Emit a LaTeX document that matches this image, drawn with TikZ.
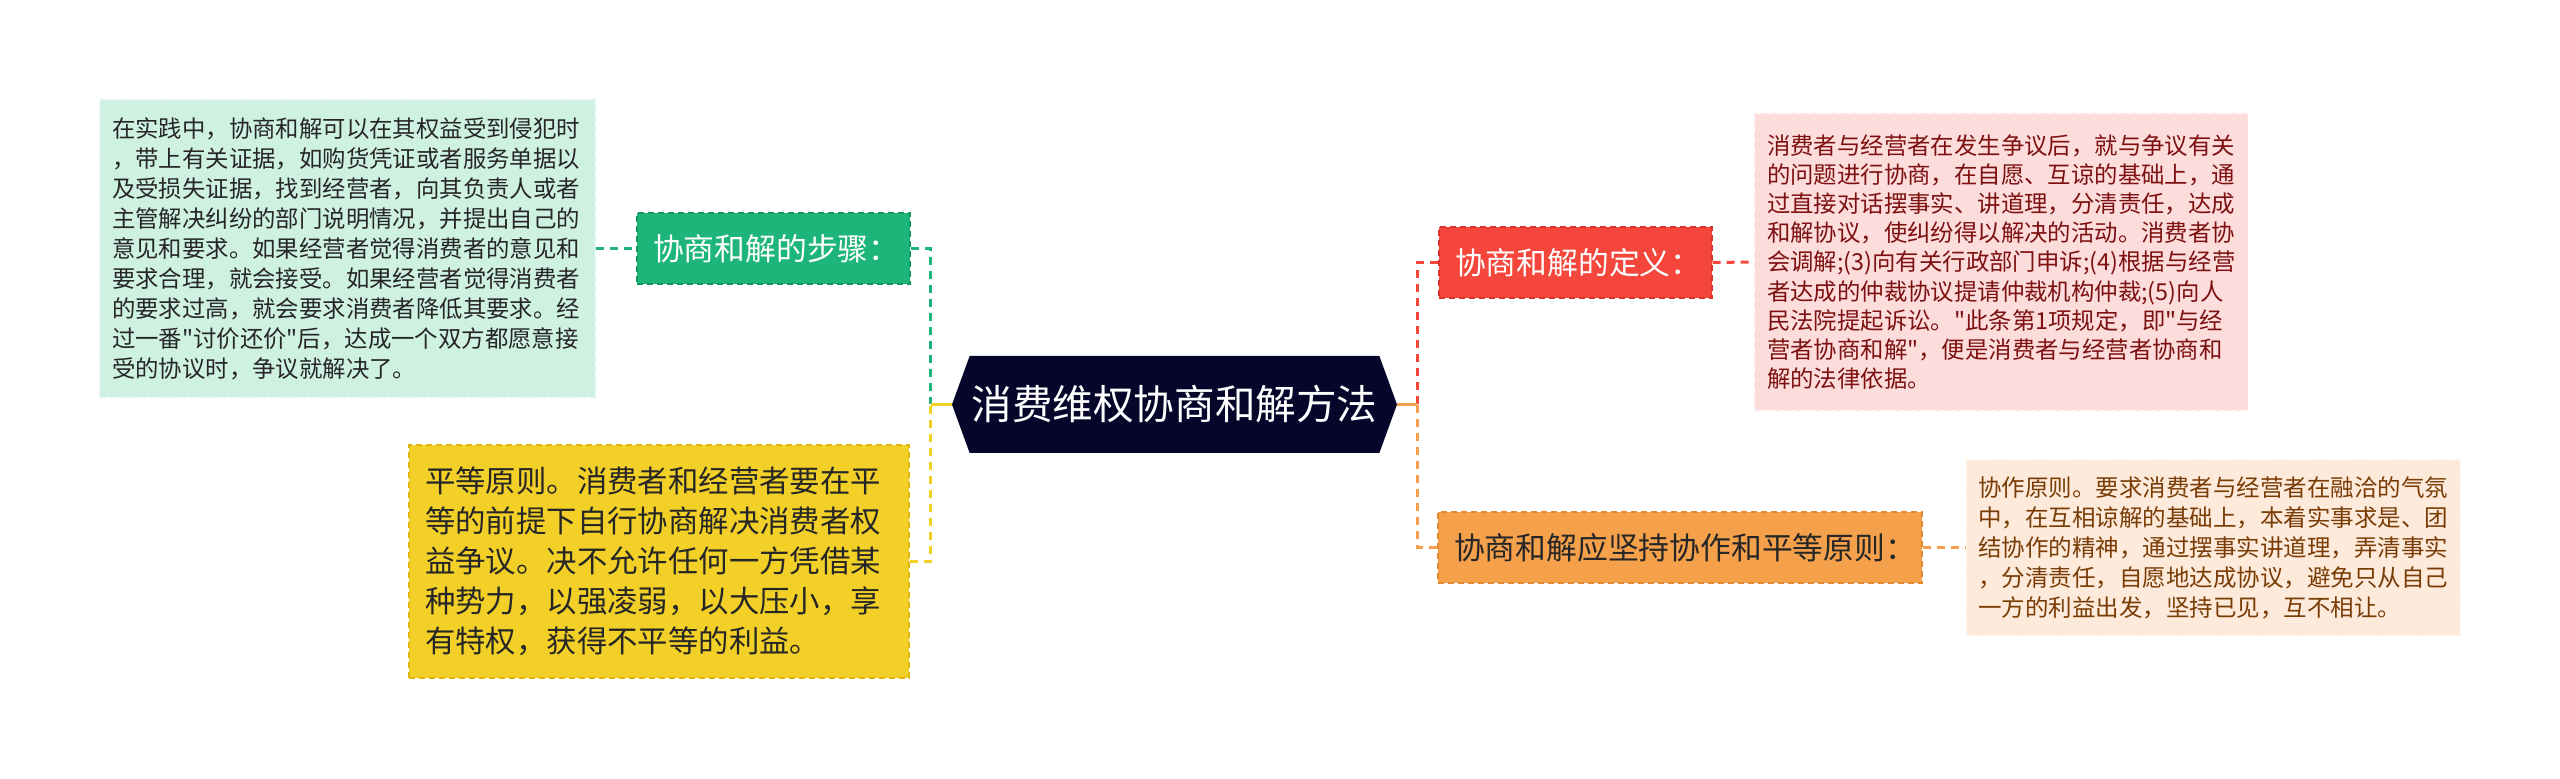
\documentclass[tikz,border=0pt]{standalone}
\usepackage{fontspec}
\setmainfont{Noto Sans CJK SC}[Ligatures=TeXOff]
\usetikzlibrary{shapes.symbols}
\definecolor{rootfill}{HTML}{05062A}
\definecolor{greenfill}{HTML}{1DB57A}
\definecolor{greenedge}{HTML}{12975F}
\definecolor{greenleaf}{HTML}{CFF1E2}
\definecolor{yellowfill}{HTML}{F2D027}
\definecolor{yellowedge}{HTML}{DDB710}
\definecolor{redfill}{HTML}{F4463B}
\definecolor{rededge}{HTML}{D9342A}
\definecolor{pinkleaf}{HTML}{FDDCDC}
\definecolor{pinktext}{HTML}{7D1010}
\definecolor{orangefill}{HTML}{F5A04B}
\definecolor{orangeedge}{HTML}{E38A30}
\definecolor{creamleaf}{HTML}{FDEADB}
\definecolor{creamtext}{HTML}{7A3C05}
\tikzset{
%Define style for the centre and the boxes
topic/.style={shape=signal, signal to=east and west, signal pointer angle=140,
  fill=rootfill, text=white, inner xsep=0pt, inner ysep=0pt,
  minimum width=222.5pt, minimum height=48.5pt,
  font=\fontsize{20.3}{24}\selectfont},
branch/.style={draw, dash pattern=on 3pt off 2pt, line width=0.7pt,
  align=left, inner xsep=8pt, inner ysep=0pt, minimum height=35.5pt,
  font=\fontsize{15.4}{18}\selectfont},
leaf/.style={draw, dash pattern=on 3pt off 2pt, line width=0.6pt,
  align=left, inner ysep=0pt},
%Define style for the connections
link/.style={line width=1.5pt, dash pattern=on 4pt off 3pt},
stub/.style={line width=1.5pt},
}
\begin{document}
\begin{tikzpicture}[x=0.5pt,y=-0.5pt]
\useasboundingbox (0,0) rectangle (2560,779);

\node[topic] (root) at (1174.5,404.5) {消费维权协商和解方法};

% left side
\node[branch, fill=greenfill, draw=greenedge, text=white, text width=120.5pt]
  (steps) at (773.5,248.5) {协商和解的步骤：};
\node[leaf, fill=greenleaf, draw=greenleaf!80!white, text=black!85,
  inner xsep=6pt, text width=235.5pt, minimum height=148.5pt,
  font=\fontsize{11.7}{15}\selectfont] (stepsleaf) at (347.5,248.5)
  {在实践中，协商和解可以在其权益受到侵犯时\\
  ，带上有关证据，如购货凭证或者服务单据以\\
  及受损失证据，找到经营者，向其负责人或者\\
  主管解决纠纷的部门说明情况，并提出自己的\\
  意见和要求。如果经营者觉得消费者的意见和\\
  要求合理，就会接受。如果经营者觉得消费者\\
  的要求过高，就会要求消费者降低其要求。经\\
  过一番"讨价还价"后，达成一个双方都愿意接\\
  受的协议时，争议就解决了。};
\node[leaf, fill=yellowfill, draw=yellowedge, text=black!85,
  inner xsep=8pt, text width=234pt, minimum height=116.5pt,
  font=\fontsize{15.2}{20}\selectfont] (equal) at (659,561.5)
  {平等原则。消费者和经营者要在平\\
  等的前提下自行协商解决消费者权\\
  益争议。决不允许任何一方凭借某\\
  种势力，以强凌弱，以大压小，享\\
  有特权，获得不平等的利益。};

% right side
\node[branch, fill=redfill, draw=rededge, text=white, text width=120.5pt]
  (defn) at (1575.5,262.5) {协商和解的定义：};
\node[leaf, fill=pinkleaf, draw=pinkleaf!80!white, text=pinktext,
  inner xsep=6.25pt, text width=234pt, minimum height=148pt,
  font=\fontsize{11.7}{14.6}\selectfont] (defnleaf) at (2001,262)
  {消费者与经营者在发生争议后，就与争议有关\\
  的问题进行协商，在自愿、互谅的基础上，通\\
  过直接对话摆事实、讲道理，分清责任，达成\\
  和解协议，使纠纷得以解决的活动。消费者协\\
  会调解;(3)向有关行政部门申诉;(4)根据与经营\\
  者达成的仲裁协议提请仲裁机构仲裁;(5)向人\\
  民法院提起诉讼。"此条第1项规定，即"与经\\
  营者协商和解"，便是消费者与经营者协商和\\
  解的法律依据。};
\node[branch, fill=orangefill, draw=orangeedge, text=black!85,
  text width=226pt] (coop) at (1680,547.5)
  {协商和解应坚持协作和平等原则：};
\node[leaf, fill=creamleaf, draw=creamleaf!80!white, text=creamtext,
  inner xsep=5.5pt, text width=235.5pt, minimum height=87.5pt,
  font=\fontsize{11.75}{15}\selectfont] (coopleaf) at (2213.5,547.5)
  {协作原则。要求消费者与经营者在融洽的气氛\\
  中，在互相谅解的基础上，本着实事求是、团\\
  结协作的精神，通过摆事实讲道理，弄清事实\\
  ，分清责任，自愿地达成协议，避免只从自己\\
  一方的利益出发，坚持已见，互不相让。};

\path coordinate (jl) at ([xshift=-10.5pt]root.west)
      coordinate (jr) at ([xshift=10pt]root.east);

\draw[link, greenfill] (steps.east) -| (jl);
\draw[link, yellowfill] (equal.east) -| (jl);
\draw[stub, yellowfill] (jl) -- (root.west);
\draw[link, redfill] (defn.west) -| (jr);
\draw[link, orangefill] (coop.west) -| (jr);
\draw[stub, orangefill] (jr) -- (root.east);

\draw[link, greenfill] (stepsleaf.east) -- (steps.west);
\draw[link, redfill] (defn.east) -- (defnleaf.west);
\draw[link, orangefill] (coop.east) -- (coopleaf.west);
\end{tikzpicture}
\end{document}
